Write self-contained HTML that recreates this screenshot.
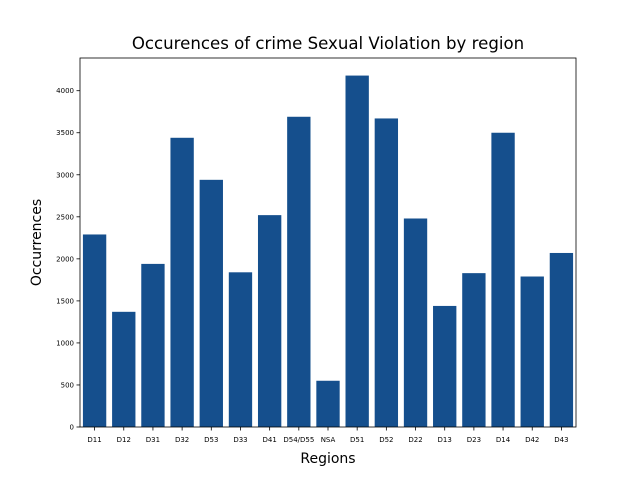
<!DOCTYPE html>
<html><head><meta charset="utf-8"><style>
body{margin:0;background:#fff;}
svg{display:block;font-family:"DejaVu Sans","Liberation Sans",sans-serif;}
</style></head><body>
<svg id="c" width="640" height="480"></svg>
<script>
const categories=["D11","D12","D31","D32","D53","D33","D41","D54/D55","NSA","D51","D52","D22","D13","D23","D14","D42","D43"];
const values=[2290,1370,1940,3440,2940,1840,2520,3690,550,4180,3670,2480,1440,1830,3500,1790,2070];
const yTicks=[0,500,1000,1500,2000,2500,3000,3500,4000];
const NS="http://www.w3.org/2000/svg";
const svg=document.getElementById('c');
const L=80,R=576,T=58,B=427;
const ymax=Math.max(...values)*1.05;
const n=categories.length;
const x=i=>L+(i+0.5)*(R-L)/n;
const y=v=>B-v/ymax*(B-T);
function mk(tag,attrs,txt){const e=document.createElementNS(NS,tag);for(const k in attrs)e.setAttribute(k,attrs[k]);if(txt!==undefined)e.textContent=txt;svg.appendChild(e);return e;}
const bw=0.8*(R-L)/n;
values.forEach((v,i)=>{
 const r=mk('rect',{x:x(i)-bw/2,y:y(v),width:bw,height:B-y(v),fill:'#154f8d'});
 
 
 const t=mk('line',{x1:x(i),x2:x(i),y1:B,y2:B+3.5,stroke:'#000','stroke-width':0.8});
 
 
 const l=mk('text',{x:x(i),y:B+15,'font-size':7,'text-anchor':'middle'},categories[i]);
 
 
});
yTicks.forEach(v=>{
 const t=mk('line',{x1:L-3.5,x2:L,y1:y(v),y2:y(v),stroke:'#000','stroke-width':0.8});
 
 
 const l=mk('text',{x:L-6,y:y(v)+2.5,'font-size':7,'text-anchor':'end'},v);
 
 
});
const f=mk('rect',{x:L,y:T,width:R-L,height:B-T,fill:'none',stroke:'#000','stroke-width':0.8});


const ti=mk('text',{x:(L+R)/2,y:49,'font-size':16.6,'text-anchor':'middle'},'Occurences of crime Sexual Violation by region');


const xt=mk('text',{x:(L+R)/2,y:463,'font-size':14,'text-anchor':'middle'},'Regions');


const yt=mk('text',{x:0,y:0,'font-size':14,'text-anchor':'middle',transform:`translate(41,${(T+B)/2}) rotate(-90)`},'Occurrences');


</script>
</body></html>
